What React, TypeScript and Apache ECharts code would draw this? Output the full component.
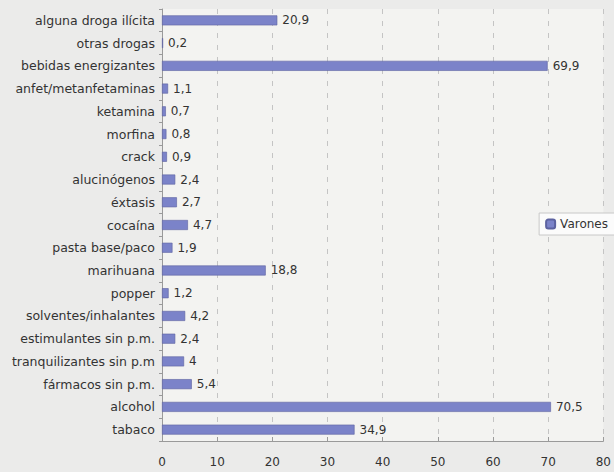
import React, { useEffect, useRef } from "react";
import * as echarts from "echarts";

const categories = [
  "alguna droga ilícita",
  "otras drogas",
  "bebidas energizantes",
  "anfet/metanfetaminas",
  "ketamina",
  "morfina",
  "crack",
  "alucinógenos",
  "éxtasis",
  "cocaína",
  "pasta base/paco",
  "marihuana",
  "popper",
  "solventes/inhalantes",
  "estimulantes sin p.m.",
  "tranquilizantes sin p.m",
  "fármacos sin p.m.",
  "alcohol",
  "tabaco",
];
const varones = [20.9, 0.2, 69.9, 1.1, 0.7, 0.8, 0.9, 2.4, 2.7, 4.7, 1.9, 18.8, 1.2, 4.2, 2.4, 4, 5.4, 70.5, 34.9];
const xTicks = [0, 10, 20, 30, 40, 50, 60, 70, 80];

export default function App() {
  const ref = useRef<HTMLDivElement>(null);
  useEffect(() => {
    if (!ref.current) return;
    const chart = echarts.init(ref.current, null, { renderer: "svg" });
    chart.setOption({
      animation: false,
      backgroundColor: "#ebebea",
      textStyle: { fontFamily: "DejaVu Sans, Verdana, sans-serif" },
      legend: {
        data: ["Varones"],
        right: -4,
        top: 213,
        orient: "vertical",
        backgroundColor: "#fbfbfb",
        borderColor: "#c8c8c8",
        borderWidth: 1,
        padding: [5, 10, 5, 6],
        itemWidth: 9,
        itemHeight: 9,
        itemGap: 4,
        textStyle: { fontSize: 12, color: "#333" },
      },
      grid: {
        left: 162,
        right: 8,
        top: 9,
        bottom: 31,
        show: true,
        backgroundColor: "#f3f3f1",
        borderWidth: 0,
      },
      xAxis: {
        type: "value",
        min: xTicks[0],
        max: xTicks[xTicks.length - 1],
        interval: 10,
        axisLine: { show: true, lineStyle: { color: "#9a9a9a" } },
        axisTick: { show: true, length: 4, inside: true, lineStyle: { color: "#9a9a9a" } },
        axisLabel: { color: "#333", fontSize: 12, margin: 15 },
        splitLine: { show: true, lineStyle: { color: "#c4c4c4", type: [5, 7] } },
      },
      yAxis: {
        type: "category",
        data: categories,
        inverse: true,
        axisLine: { show: true, lineStyle: { color: "#9a9a9a" } },
        axisTick: { show: true, length: 3, lineStyle: { color: "#9a9a9a" } },
        axisLabel: { color: "#333", fontSize: 12.5, margin: 7 },
        splitLine: { show: false },
      },
      series: [
        {
          name: "Varones",
          type: "bar",
          data: varones,
          barWidth: 10,
          itemStyle: { color: "#7b83c9", borderColor: "#5c62a0", borderWidth: 0.6 },
          label: {
            show: true,
            position: "right",
            distance: 5,
            color: "#333",
            fontSize: 12,
            formatter: (p: any) => String(p.value).replace(".", ","),
          },
        },
      ],
    });
    return () => chart.dispose();
  }, []);
  return <div ref={ref} style={{ width: 614, height: 472, position: "absolute", left: 0, top: 0 }} />;
}
